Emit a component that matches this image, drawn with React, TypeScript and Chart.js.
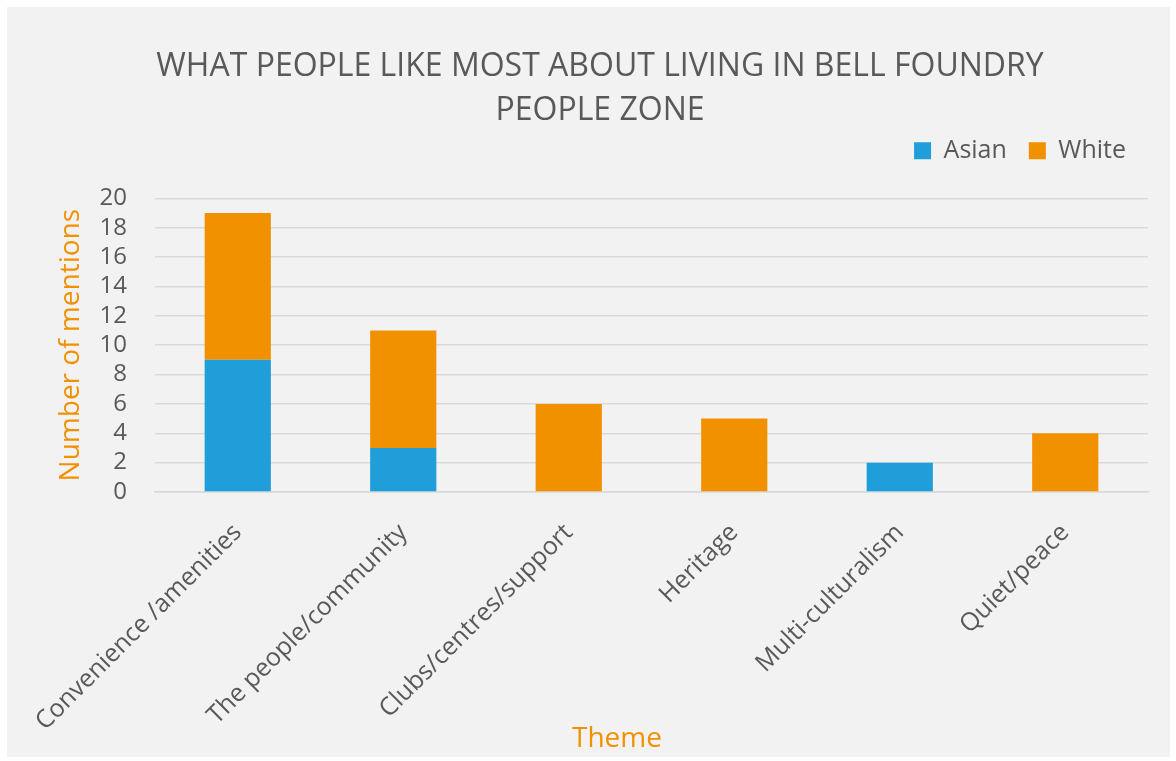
import React, { useEffect, useRef } from "react";
import { Chart, registerables } from "chart.js";

Chart.register(...registerables);

const categories = [
  "Convenience /amenities",
  "The people/community",
  "Clubs/centres/support",
  "Heritage",
  "Multi-culturalism",
  "Quiet/peace",
];
const asianValues = [9, 3, 0, 0, 2, 0];
const whiteValues = [10, 8, 6, 5, 0, 4];
const titleLines = ["WHAT PEOPLE LIKE MOST ABOUT LIVING IN BELL FOUNDRY", "PEOPLE ZONE"];
const xAxisTitle = "Theme";
const yAxisTitle = "Number of mentions";

const TEXT = "#595959";
const ORANGE = "#F29100";
const BLUE = "#1F9ED9";
const FONT = "'Open Sans', 'Noto Sans', sans-serif";

export default function App() {
  const ref = useRef<HTMLCanvasElement>(null);
  useEffect(() => {
    if (!ref.current) return;
    const legendGap = {
      id: "legendGap",
      beforeInit(chart: any) {
        const lg = chart.legend;
        if (!lg) return;
        const orig = lg.fit;
        lg.fit = function () {
          orig.call(this);
          this.height += 25;
        };
      },
    };
    const xTitle = {
      id: "xTitle",
      afterDraw(chart: any) {
        const ctx = chart.ctx;
        ctx.save();
        ctx.fillStyle = ORANGE;
        ctx.font = `28px ${FONT}`;
        ctx.textAlign = "center";
        ctx.textBaseline = "middle";
        ctx.fillText(xAxisTitle, 610, 732);
        ctx.restore();
      },
    };
    const chart = new Chart(ref.current, {
      type: "bar",
      data: {
        labels: categories,
        datasets: [
          { label: "Asian", data: asianValues, backgroundColor: BLUE, barPercentage: 0.4, categoryPercentage: 1 },
          { label: "White", data: whiteValues, backgroundColor: ORANGE, barPercentage: 0.4, categoryPercentage: 1 },
        ],
      },
      options: {
        responsive: false,
        animation: false,
        layout: { padding: { left: 45, right: 22, top: 0, bottom: 0 } },
        plugins: {
          title: {
            display: true,
            text: titleLines,
            color: TEXT,
            font: { family: FONT, size: 32, weight: "normal", lineHeight: 1.38 },
            padding: { top: 38, bottom: -17 },
          },
          legend: {
            position: "top",
            align: "end",
            labels: {
              color: TEXT,
              font: { family: FONT, size: 25 },
              boxWidth: 17,
              boxHeight: 17,
              padding: 22,
            },
          },
          tooltip: { enabled: false },
        },
        scales: {
          x: {
            stacked: true,
            afterFit: (s: any) => {
              s.height = 265;
              s.paddingLeft = 0;
              s.paddingRight = 0;
            },
            grid: { display: false, drawTicks: false },
            border: { display: true, color: "#d9d9d9", width: 1.5 },
            ticks: {
              color: TEXT,
              font: { family: FONT, size: 25 },
              minRotation: 45,
              maxRotation: 45,
              padding: 26,
              labelOffset: 0,
              autoSkip: false,
            },
          },
          y: {
            stacked: true,
            min: 0,
            max: 20,
            afterFit: (s: any) => {
              s.width = 103;
            },
            grid: { color: "#d9d9d9", lineWidth: 1.5, drawTicks: false },
            border: { display: false },
            ticks: {
              stepSize: 2,
              autoSkip: false,
              color: TEXT,
              font: { family: FONT, size: 24 },
              padding: 28,
            },
            title: {
              display: true,
              text: yAxisTitle,
              color: ORANGE,
              font: { family: FONT, size: 28 },
              padding: 2,
            },
          },
        },
      },
      plugins: [legendGap, xTitle],
    });
    return () => chart.destroy();
  }, []);
  return (
    <div
      style={{
        position: "absolute",
        left: 7,
        top: 7,
        width: 1163,
        height: 750,
        background: "#f2f2f2",
      }}
    >
      <canvas ref={ref} width={1163} height={750} />
    </div>
  );
}
